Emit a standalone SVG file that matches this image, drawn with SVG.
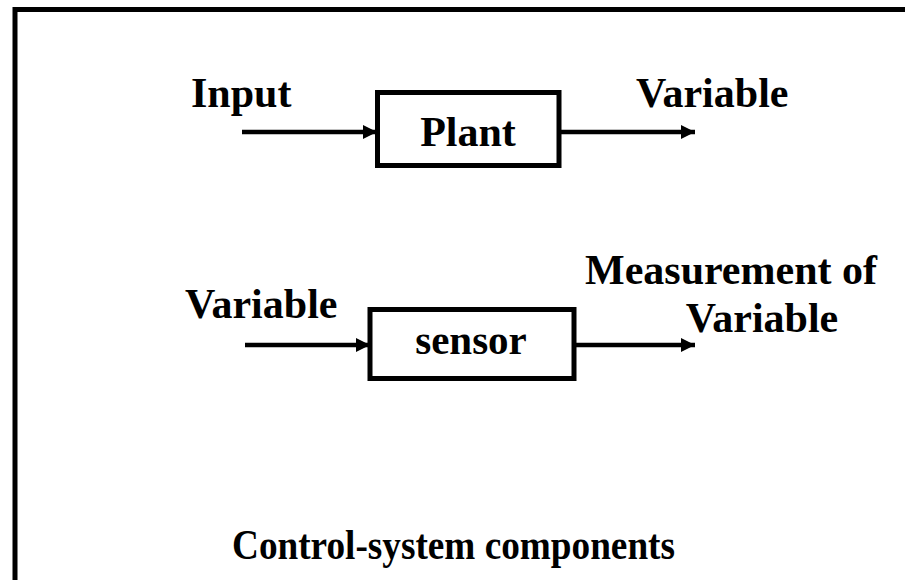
<svg xmlns="http://www.w3.org/2000/svg" width="905" height="580" viewBox="0 0 905 580">
<defs>
<style>
.t{font-family:"Liberation Serif","Times New Roman",serif;font-weight:bold;font-size:42px;fill:#000}
.s{font-size:41px}
.box{fill:#fff;stroke:#000;stroke-width:5}
.c{stroke:#000;stroke-width:4.5;fill:none}
</style>
<marker id="ah" viewBox="0 0 10 10" refX="10" refY="5" markerWidth="15" markerHeight="14" markerUnits="userSpaceOnUse" orient="auto"><path d="M0,0 L10,5 L0,10 z" fill="#000"/></marker>
</defs>
<rect width="905" height="580" fill="#fff"/>
<path d="M15,585 L15,9.5 L910,9.5" fill="none" stroke="#000" stroke-width="5"/>
<g id="connectors">
<line class="c" x1="242" y1="132" x2="377" y2="132" marker-end="url(#ah)"/>
<line class="c" x1="559" y1="132" x2="695" y2="132" marker-end="url(#ah)"/>
<line class="c" x1="245" y1="345" x2="370" y2="345" marker-end="url(#ah)"/>
<line class="c" x1="574" y1="345" x2="695" y2="345" marker-end="url(#ah)"/>
</g>
<g id="plant">
<rect class="box" x="377.5" y="92.5" width="181.5" height="73"/>
<text class="t" x="468" y="146" text-anchor="middle">Plant</text>
</g>
<g id="sensor">
<rect class="box" x="370" y="309.5" width="204" height="69"/>
<text class="t s" x="471" y="354" text-anchor="middle">sensor</text>
</g>
<g id="labels">
<text class="t" x="191" y="107">Input</text>
<text class="t" x="636" y="107">Variable</text>
<text class="t" x="185" y="318">Variable</text>
<text class="t" x="731" y="284" text-anchor="middle">Measurement of</text>
<text class="t" x="762" y="332" text-anchor="middle">Variable</text>
<text class="t" x="232" y="559" textLength="443" lengthAdjust="spacingAndGlyphs">Control-system components</text>
</g>
</svg>
